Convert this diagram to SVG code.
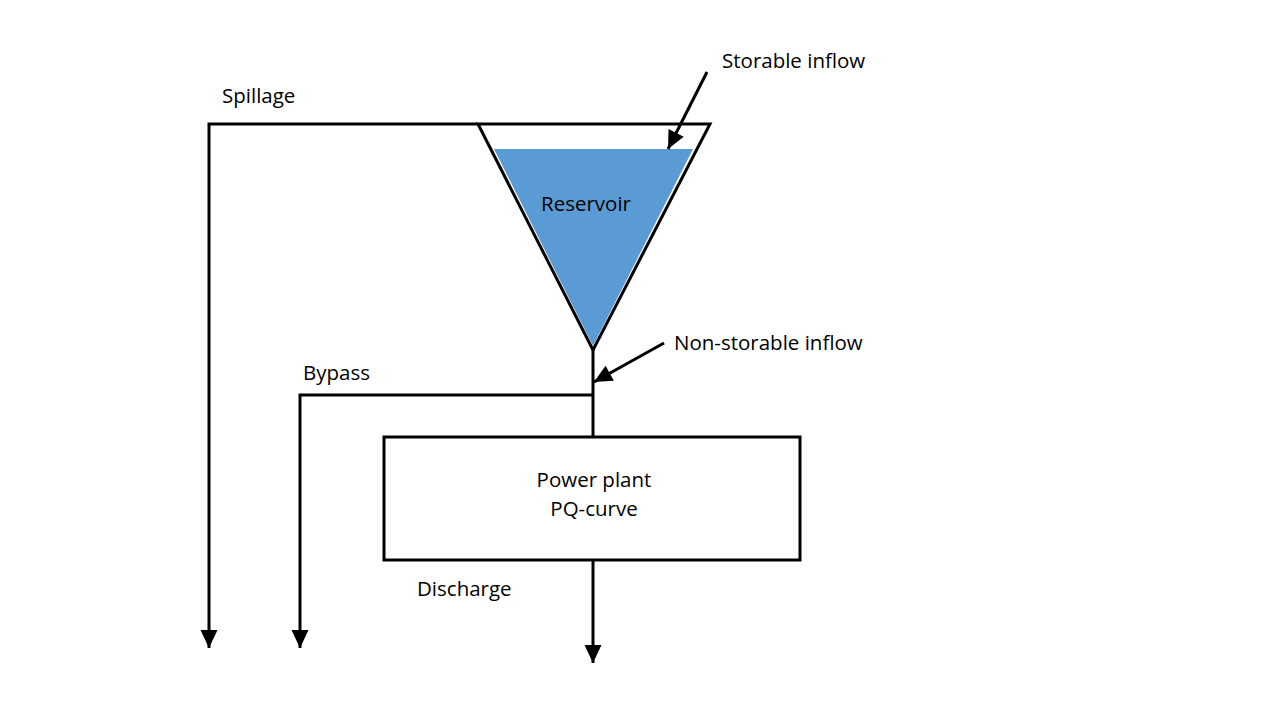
<svg xmlns="http://www.w3.org/2000/svg" width="1280" height="720" viewBox="0 0 1280 720">
<style>
.ln{fill:none;stroke:#000;stroke-width:3}
.t{font-family:"Open Sans","Liberation Sans",Arial,sans-serif;font-size:20.5px;fill:#000}
</style>
<defs>
<marker id="ah" markerUnits="userSpaceOnUse" markerWidth="24" markerHeight="24" viewBox="0 0 24 24" refX="21" refY="12" orient="auto">
<path d="M3,3.5 L21,12 L3,20.5 Z" fill="#000"/>
</marker>
</defs>
<rect width="1280" height="720" fill="#fff"/>
<g id="reservoir">
<polygon points="478,124 710,124 593,350" fill="none" stroke="#000" stroke-width="3"/>
<polygon points="494,149 693,149 593,346" fill="#5b9bd5"/>
<text class="t" x="586" y="211" text-anchor="middle">Reservoir</text>
</g>
<g id="powerplant">
<rect x="384" y="437" width="416" height="123" fill="#fff" stroke="#000" stroke-width="3"/>
<text class="t" x="594" y="487" text-anchor="middle">Power plant</text>
<text class="t" x="594" y="516" text-anchor="middle">PQ-curve</text>
</g>
<g id="connectors">
<polyline class="ln" points="478,124 209,124 209,648" marker-end="url(#ah)"/>
<polyline class="ln" points="593,395 300,395 300,648" marker-end="url(#ah)"/>
<line class="ln" x1="593" y1="350" x2="593" y2="437"/>
<line class="ln" x1="593" y1="560" x2="593" y2="663" marker-end="url(#ah)"/>
<line class="ln" x1="707" y1="72" x2="668" y2="149" marker-end="url(#ah)"/>
<line class="ln" x1="664" y1="343" x2="594" y2="382" marker-end="url(#ah)"/>
</g>
<g id="labels">
<text class="t" x="722" y="68">Storable inflow</text>
<text class="t" x="222" y="103">Spillage</text>
<text class="t" x="674" y="350">Non-storable inflow</text>
<text class="t" x="303" y="380">Bypass</text>
<text class="t" x="417" y="596">Discharge</text>
</g>
</svg>
